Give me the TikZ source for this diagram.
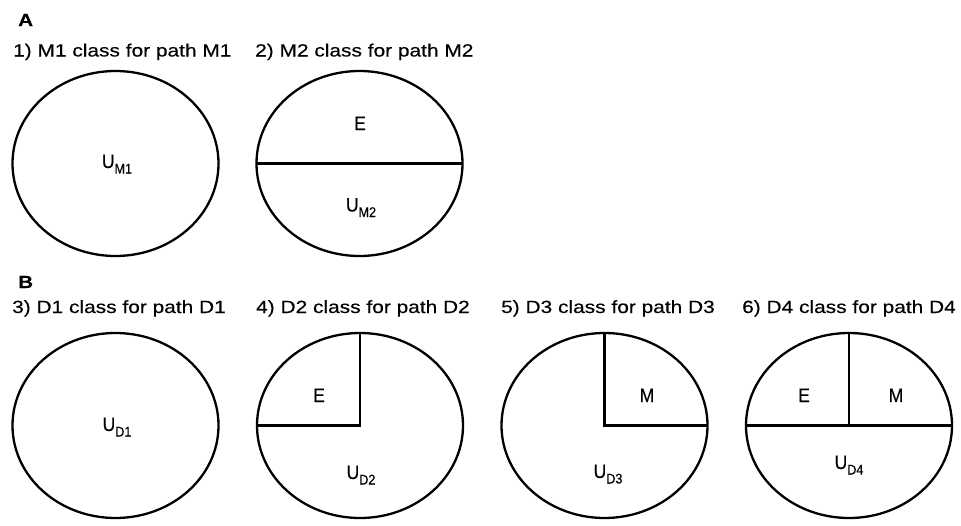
\documentclass[tikz,border=0pt]{standalone}
\usepackage{fontspec}
\setmainfont{Liberation Sans}
\newfontfamily\ttlfont{Liberation Sans}[FakeStretch=1.18,FakeBold=0.3]
\newfontfamily\innfont{Liberation Sans}[FakeStretch=0.9,FakeBold=0.3]
\usetikzlibrary{shapes.geometric}
\newcommand{\Usub}[1]{U\raisebox{-5.5pt}{\fontsize{14}{14}\selectfont #1}}
\begin{document}
\begin{tikzpicture}[x=1pt,y=-1pt,
  oval/.style={draw,ellipse,line width=2.3pt,minimum width=206pt,minimum height=185pt,inner sep=0pt,outer sep=0pt},
  divline/.style={line width=2.3pt},
  ttl/.style={anchor=base west,inner sep=0pt,font=\ttlfont\fontsize{17.7}{20}\selectfont},
  panel/.style={anchor=base west,inner sep=0pt,font=\ttlfont\bfseries\fontsize{17.5}{20}\selectfont},
  lab/.style={anchor=base,inner sep=0pt,font=\innfont\fontsize{19.5}{22}\selectfont}]
\useasboundingbox[fill=white] (0,0) rectangle (961,525);

% panel letters
\node[panel] (pA) at (18,26) {A};
\node[panel] (pB) at (18,288) {B};

% titles
\node[ttl] (t1) at (13,56.5) {1) M1 class for path M1};
\node[ttl] (t2) at (255,56.5) {2) M2 class for path M2};
\node[ttl] (t3) at (12,313) {3) D1 class for path D1};
\node[ttl] (t4) at (256,313) {4) D2 class for path D2};
\node[ttl] (t5) at (501,313) {5) D3 class for path D3};
\node[ttl] (t6) at (742,313) {6) D4 class for path D4};

% ellipses
\node[oval] (e1) at (115.5,163.5) {};
\node[oval] (e2) at (359.5,163.5) {};
\node[oval] (e3) at (115.5,425.5) {};
\node[oval] (e4) at (360,425.5) {};
\node[oval] (e5) at (604.5,425.5) {};
\node[oval] (e6) at (849,425.5) {};

% dividing lines
\draw[divline] (e2.west) -- (e2.east);
\draw[divline] (e4.north) -- (e4.center) -- (e4.west);
\draw[divline] (e5.north) -- (e5.center) -- (e5.east);
\draw[divline] (e6.west) -- (e6.east);
\draw[divline] (e6.north) -- (e6.center);

% labels
\node[lab] (l1) at (117,168) {\Usub{M1}};
\node[lab] (l2e) at (360,130) {E};
\node[lab] (l2u) at (361,211.5) {\Usub{M2}};
\node[lab] (l3) at (117,431) {\Usub{D1}};
\node[lab] (l4e) at (319,402) {E};
\node[lab] (l4u) at (361,479) {\Usub{D2}};
\node[lab] (l5m) at (647,402) {M};
\node[lab] (l5u) at (608,478) {\Usub{D3}};
\node[lab] (l6e) at (804,402) {E};
\node[lab] (l6m) at (896,402) {M};
\node[lab] (l6u) at (849,469) {\Usub{D4}};
\end{tikzpicture}
\end{document}
